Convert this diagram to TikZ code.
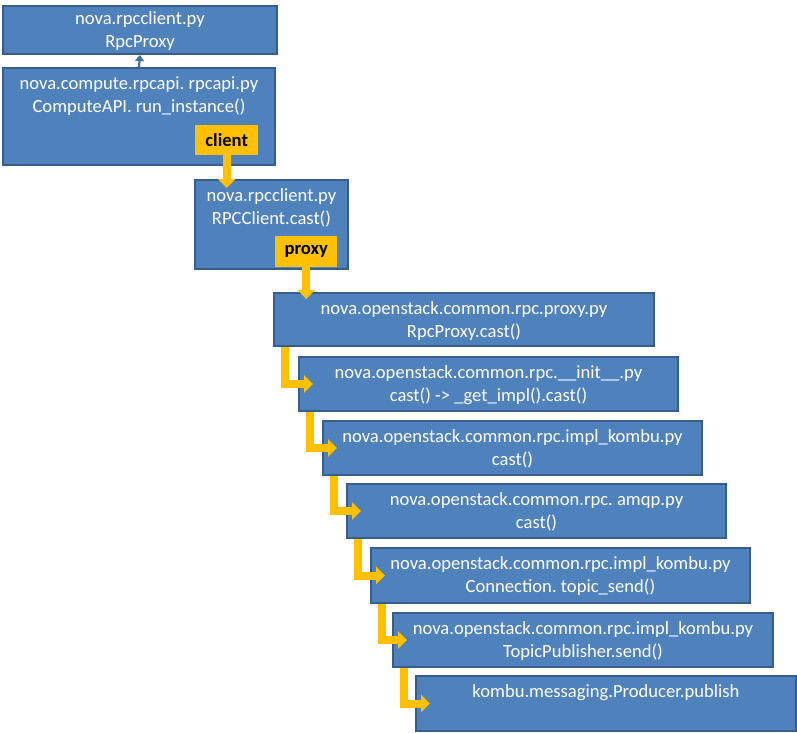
\documentclass[tikz,border=0pt]{standalone}
\usepackage{fontspec}
\setmainfont{Carlito}
\usepackage{xcolor}
\usepackage{tikz}
\usetikzlibrary{arrows.meta,positioning}

\definecolor{boxblue}{HTML}{4F81BD}
\definecolor{boxedge}{HTML}{385D8A}
\definecolor{tagorange}{HTML}{FFC000}

\frenchspacing

% text block of a box: [first baseline]{width}{height}{lines}
\newcommand{\boxlines}[4][21pt]{\parbox[t][#3][t]{#2}{\centering\rule{0pt}{#1}#4}}

\begin{document}
\begin{tikzpicture}[
        x=1pt, y=-1pt,
        every node/.style={font=\fontsize{18.6}{23.5}\selectfont},
        box/.style={draw=boxedge, line width=2pt, fill=boxblue, text=white,
                    inner sep=0pt, anchor=north west},
        tag/.style={fill=tagorange, text=black, inner sep=0pt, anchor=north west,
                    font=\fontsize{18.6}{23.5}\selectfont\bfseries},
        flow/.style={draw=tagorange, line width=8pt,
                     -{Triangle[width=17pt,length=9pt]}},
        uplink/.style={draw=boxblue!85!black, line width=2.2pt,
                       -{Triangle[width=9pt,length=6pt]}}
      ]

        \useasboundingbox (0,0) rectangle (797,732);

        % Client side --------------------------------------------
        \node[box] (rpcproxy)   at (2,5)   {\boxlines[18pt]{274pt}{48pt}{nova.rpcclient.py\\RpcProxy}};
        \node[box] (computeapi) at (2,67)  {\boxlines{272pt}{97pt}{nova.compute.rpcapi. rpcapi.py\\ComputeAPI. run\_instance()}};
        \node[box] (rpcclient)  at (194,179) {\boxlines{153pt}{89pt}{nova.rpcclient.py\\RPCClient.cast()}};

        \node[tag, minimum width=63pt, minimum height=30pt] (client) at (195,125) {client};
        \node[tag, minimum width=62pt, minimum height=31pt] (proxy)  at (275,236) {proxy};

        % Call chain ---------------------------------------------
        \node[box] (proxycast) at (273,292) {\boxlines{380pt}{53pt}{nova.openstack.common.rpc.proxy.py\\RpcProxy.cast()}};
        \node[box] (initcast)  at (298,356) {\boxlines{379pt}{54pt}{nova.openstack.common.rpc.\_\_init\_\_.py\\cast() -> \_get\_impl().cast()}};
        \node[box] (kombucast) at (322,420) {\boxlines{379pt}{54pt}{nova.openstack.common.rpc.impl\_kombu.py\\cast()}};
        \node[box] (amqpcast)  at (346,483) {\boxlines{379pt}{54pt}{nova.openstack.common.rpc. amqp.py\\cast()}};
        \node[box] (topicsend) at (370,547) {\boxlines{379pt}{55pt}{nova.openstack.common.rpc.impl\_kombu.py\\Connection. topic\_send()}};
        \node[box] (pubsend)   at (392,612) {\boxlines{380pt}{54pt}{nova.openstack.common.rpc.impl\_kombu.py\\TopicPublisher.send()}};
        \node[box] (producer)  at (415,675) {\boxlines{380pt}{55pt}{kombu.messaging.Producer.publish}};

        % Arrows -------------------------------------------------
        \draw[uplink] (computeapi.north) -- (rpcproxy.south);

        \draw[flow] (client.south) -- (client.south |- rpcclient.north) -- +(0,9);
        \draw[flow] (proxy.south)  -- (proxy.south |- proxycast.north) -- +(0,7);

        \draw[flow] ([xshift=12pt]proxycast.south west) |- ([xshift=15pt]initcast.west);
        \draw[flow] ([xshift=12pt]initcast.south west)  |- ([xshift=15pt]kombucast.west);
        \draw[flow] ([xshift=12pt]kombucast.south west) |- ([xshift=15pt]amqpcast.west);
        \draw[flow] ([xshift=12pt]amqpcast.south west)  |- ([xshift=15pt]topicsend.west);
        \draw[flow] ([xshift=12pt]topicsend.south west) |- ([xshift=15pt]pubsend.west);
        \draw[flow] ([xshift=12pt]pubsend.south west)   |- ([xshift=15pt]producer.west);

      \end{tikzpicture}
\end{document}
